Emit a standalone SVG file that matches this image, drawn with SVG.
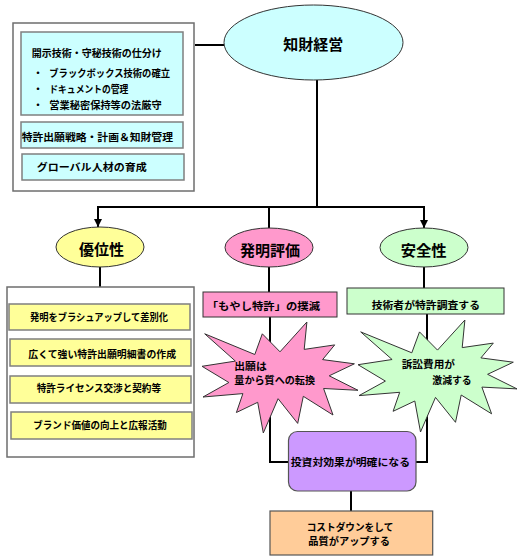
<svg xmlns="http://www.w3.org/2000/svg" width="520" height="559" viewBox="0 0 520 559">
<defs>
<style>
text{font-family:"Noto Sans CJK JP","Liberation Sans",sans-serif;font-weight:bold;fill:#000;dominant-baseline:central}
.s{font-size:10px}
.h{font-size:15px}
.panel{fill:#fff;stroke:#6e6e6e;stroke-width:1.5}
.cyan{fill:#ccffff;stroke:#7f7f7f;stroke-width:1.5}
.yel{fill:#ffff99;stroke:#7f7f7f;stroke-width:1.5}
.ell{stroke:#333;stroke-width:1}
.pink{fill:#ff99cc;stroke:#333;stroke-width:1}
.green{fill:#ccffcc;stroke:#333;stroke-width:1}
.con{fill:none;stroke:#000;stroke-width:2}
</style>
<marker id="arr" viewBox="0 0 10 10" refX="10" refY="5" markerWidth="4" markerHeight="4" orient="auto" markerUnits="strokeWidth">
<path d="M0,0 L10,5 L0,10 Z" fill="#000"/>
</marker>
</defs>
<rect width="520" height="559" fill="#fff"/>

<g id="connectors">
<line class="con" x1="195" y1="45" x2="224" y2="45"/>
<line class="con" x1="317" y1="80" x2="317" y2="207"/>
<line class="con" x1="97" y1="207" x2="425" y2="207"/>
<line class="con" x1="98" y1="207" x2="98" y2="227" marker-end="url(#arr)"/>
<line class="con" x1="424" y1="207" x2="424" y2="228" marker-end="url(#arr)"/>
<line class="con" x1="269" y1="207" x2="269" y2="228"/>
<line class="con" x1="100" y1="267" x2="100" y2="287"/>
<line class="con" x1="269" y1="267" x2="269" y2="292"/>
<line class="con" x1="424" y1="267" x2="424" y2="288"/>
<polyline class="con" points="270,317 270,462 289,462"/>
<polyline class="con" points="427,314 427,462 415,462"/>
<line class="con" x1="351" y1="491" x2="351" y2="511"/>
</g>

<g id="left-panel">
<rect class="panel" x="13" y="23" width="181" height="168"/>
<rect class="cyan" x="21" y="32" width="162" height="83"/>
<text class="s" x="31.7" y="52" textLength="130" lengthAdjust="spacingAndGlyphs">開示技術・守秘技術の仕分け</text>
<text class="s" x="33" y="72.3">・</text>
<text class="s" x="33" y="88.7">・</text>
<text class="s" x="33" y="104.3">・</text>
<text class="s" x="49.3" y="72.3" textLength="120.7" lengthAdjust="spacingAndGlyphs">ブラックボックス技術の確立</text>
<text class="s" x="49.3" y="88.7" textLength="79" lengthAdjust="spacingAndGlyphs">ドキュメントの管理</text>
<text class="s" x="49.3" y="104.3" textLength="112.4" lengthAdjust="spacingAndGlyphs">営業秘密保持等の法厳守</text>
<rect class="cyan" x="21" y="122" width="162" height="26"/>
<text class="s" x="21.7" y="136" textLength="151.3" lengthAdjust="spacingAndGlyphs">特許出願戦略・計画＆知財管理</text>
<rect class="cyan" x="22" y="154" width="162" height="26"/>
<text class="s" x="36.7" y="166.7" textLength="110" lengthAdjust="spacingAndGlyphs">グローバル人材の育成</text>
</g>

<g id="chizai-keiei">
<ellipse class="ell" cx="313.5" cy="42.5" rx="89.5" ry="37.5" fill="#ccffff"/>
<text class="h" x="283.3" y="43.3" textLength="60" lengthAdjust="spacingAndGlyphs">知財経営</text>
</g>

<g id="yuisei">
<ellipse class="ell" cx="100" cy="247" rx="44" ry="20" fill="#ffff99"/>
<text class="h" x="79" y="248.3" textLength="45" lengthAdjust="spacingAndGlyphs">優位性</text>
</g>

<g id="hatsumei-hyoka">
<ellipse class="ell" cx="269" cy="247.5" rx="44" ry="19.5" fill="#ff99cc"/>
<text class="h" x="240" y="249.5" textLength="60" lengthAdjust="spacingAndGlyphs">発明評価</text>
</g>

<g id="anzensei">
<ellipse class="ell" cx="424" cy="247.5" rx="44" ry="19.5" fill="#ccffcc"/>
<text class="h" x="400.7" y="249.5" textLength="46" lengthAdjust="spacingAndGlyphs">安全性</text>
</g>

<g id="yuisei-panel">
<rect class="panel" x="7" y="287" width="187" height="170"/>
<rect class="yel" x="9" y="304" width="181" height="26"/>
<text class="s" x="30" y="316.7" textLength="138" lengthAdjust="spacingAndGlyphs">発明をブラシュアップして差別化</text>
<rect class="yel" x="10" y="339" width="181" height="27"/>
<text class="s" x="28.3" y="353.3" textLength="147.7" lengthAdjust="spacingAndGlyphs">広くて強い特許出願明細書の作成</text>
<rect class="yel" x="10" y="376" width="181" height="27"/>
<text class="s" x="36.7" y="387.3" textLength="124.3" lengthAdjust="spacingAndGlyphs">特許ライセンス交渉と契約等</text>
<rect class="yel" x="11" y="412" width="181" height="27"/>
<text class="s" x="33.3" y="424" textLength="133.4" lengthAdjust="spacingAndGlyphs">ブランド価値の向上と広報活動</text>
</g>

<g id="moyashi">
<rect class="pink" x="203" y="292" width="134" height="25"/>
<text class="s" x="206.7" y="305.2" textLength="113.3" lengthAdjust="spacingAndGlyphs">「もやし特許」の撲滅</text>
</g>

<g id="gijutsusha">
<rect class="green" x="347" y="288" width="157" height="26"/>
<text class="s" x="371.7" y="304" textLength="108.3" lengthAdjust="spacingAndGlyphs">技術者が特許調査する</text>
</g>

<g id="star-pink">
<polygon class="pink" points="280,351.8 306.9,322 304.2,349.4 334.7,344.9 322.6,359.6 354.4,363.8 329.2,375.8 358,390.3 323.6,388.5 333,415 303.3,396.3 297.7,423.4 278.1,398.7 263.3,433 257.7,402.3 236.4,412.5 242.9,393.6 203,397 228.9,382.5 202,366.3 235.4,361.1 204.7,333.8 254.8,354.5 262.3,333.8"/>
<text class="s" x="234.3" y="365.3" textLength="32.4" lengthAdjust="spacingAndGlyphs">出願は</text>
<text class="s" x="234.3" y="379.8" textLength="80.7" lengthAdjust="spacingAndGlyphs">量から質への転換</text>
</g>

<g id="star-green">
<polygon class="green" points="437.5,350.1 464.9,320 462.2,347.6 493.3,343.1 480.9,357.9 513.3,362.2 487.6,374.3 517,388.9 481.9,387.1 491.6,413.8 461.2,395 455.5,422.3 435.5,397.4 420.5,432 414.8,401 393.1,411.3 399.7,392.3 359,395.6 385.4,381.1 358,364.7 392.1,359.5 360.7,331.9 411.8,352.8 419.5,331.9"/>
<text class="s" x="401.7" y="363.3" textLength="53.3" lengthAdjust="spacingAndGlyphs">訴訟費用が</text>
<text class="s" x="432.3" y="379" textLength="39.4" lengthAdjust="spacingAndGlyphs">激減する</text>
</g>

<g id="toshi">
<rect x="288.5" y="431.5" width="127.5" height="59.5" rx="9" ry="9" fill="#cc99ff" stroke="#555" stroke-width="1.2"/>
<text class="s" x="290.7" y="461.7" textLength="119.3" lengthAdjust="spacingAndGlyphs">投資対効果が明確になる</text>
</g>

<g id="costdown">
<rect x="270" y="511" width="162.7" height="44" fill="#ffcc99" stroke="#555" stroke-width="1.2"/>
<text class="s" x="306.7" y="526.7" textLength="86.6" lengthAdjust="spacingAndGlyphs">コストダウンをして</text>
<text class="s" x="308.3" y="540.7" textLength="81.7" lengthAdjust="spacingAndGlyphs">品質がアップする</text>
</g>
</svg>
